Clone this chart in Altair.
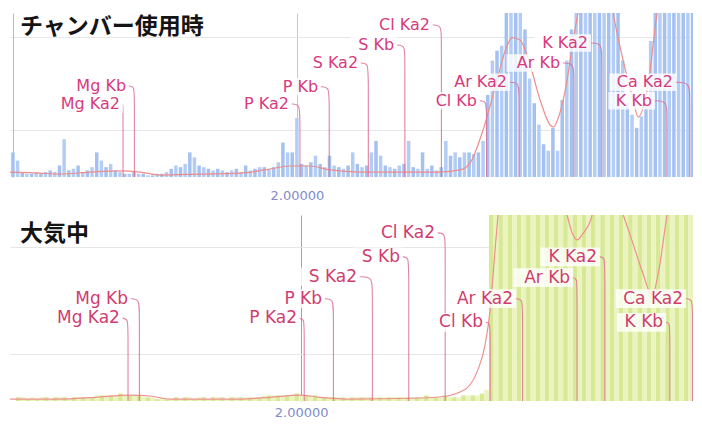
import altair as alt
import pandas as pd

# ---------------- data ----------------
# spectrum channel energies (keV), 20 eV channels
energy = [round(0.78 + 0.02 * i, 2) for i in range(147)]

# chamber (top) counts, relative units (100 = top of panel)
top_counts = [
    15, 10, 3, 2, 2, 3, 2, 3, 4, 3,
    7, 23, 4, 5, 7, 3, 4, 6, 15, 10,
    6, 8, 4, 3, 2, 2, 3, 2, 2, 1,
    1, 2, 2, 3, 5, 7, 6, 8, 15, 12,
    7, 6, 5, 4, 5, 4, 3, 4, 5, 3,
    7, 4, 5, 6, 6, 5, 6, 9, 21, 15,
    15, 36, 8, 7, 9, 13, 8, 6, 13, 7,
    6, 5, 7, 15, 8, 6, 7, 15, 22, 13,
    7, 6, 5, 7, 8, 22, 6, 5, 15, 5,
    7, 4, 6, 22, 13, 15, 12, 15, 15, 14,
    15, 22, 50, 71, 77, 80, 120, 120, 120, 120,
    90, 60, 45, 32, 20, 16, 30, 16, 47, 71,
    90, 120, 120, 120, 120, 120, 120, 120, 120, 120,
    120, 71, 45, 38, 30, 37, 45, 83, 100, 120,
    120, 120, 120, 120, 120, 120, 120,
]

# air (bottom) counts, relative units
bottom_counts = [
    2, 2, 1, 2, 1, 2, 2, 1, 2, 2,
    2, 1, 2, 2, 2, 2, 2, 3, 3, 3,
    3, 3, 4, 3, 3, 3, 3, 2, 2, 2,
    1, 2, 1, 1, 2, 1, 2, 2, 1, 2,
    2, 1, 2, 2, 2, 1, 2, 2, 2, 2,
    2, 2, 2, 3, 3, 3, 3, 3, 3, 3,
    4, 3, 3, 3, 3, 2, 2, 2, 2, 2,
    2, 1, 2, 2, 2, 2, 2, 2, 2, 2,
    2, 2, 2, 2, 2, 2, 2, 2, 3, 2,
    2, 2, 3, 2, 2, 2, 3, 3, 3, 3,
    4, 6, 120, 120, 120, 120, 120, 120, 120, 120,
    120, 120, 120, 120, 120, 120, 120, 120, 120, 120,
    120, 120, 120, 120, 120, 120, 120, 120, 120, 120,
    120, 120, 120, 120, 120, 120, 120, 120, 120, 120,
    120, 120, 120, 120, 120, 120, 120,
]

# fitted curves
top_fit_e = [0.767, 0.896, 0.982, 1.111, 1.240, 1.326, 1.412, 1.584, 1.756, 1.863,
             1.971, 2.057, 2.143, 2.271, 2.443, 2.615, 2.701, 2.744, 2.800, 2.860,
             2.895, 2.925, 2.959, 2.993, 3.045, 3.088, 3.101, 3.131, 3.161, 3.187,
             3.208, 3.238, 3.303, 3.337, 3.359, 3.402, 3.445, 3.466, 3.505, 3.548,
             3.582, 3.707]
top_fit_v = [3, 2.4, 1.8, 3, 3.7, 3, 1.2, 1.8, 2.4, 4.3,
             6.7, 6.7, 4.3, 3, 3, 3, 4.3, 8.5, 28.7, 59,
             77, 85, 83.5, 72.6, 47, 31.7, 30.5, 39.6, 59, 83.5,
             100, 120, 132, 120, 100, 71, 47, 36.6, 53, 100,
             125, 125]

bot_fit_e = [0.744, 0.960, 1.111, 1.262, 1.348, 1.434, 1.736, 1.866, 1.995, 2.081,
             2.211, 2.513, 2.629, 2.685, 2.728, 2.763, 2.793, 2.815, 2.836, 2.849,
             2.871, 3.095, 3.147, 3.170, 3.190, 3.215, 3.255, 3.289, 3.389, 3.430,
             3.470, 3.514, 3.545, 3.578, 3.620, 3.695]
bot_fit_v = [1, 1, 2, 3.2, 2.7, 1, 1, 2, 3.2, 2,
             1, 1.6, 2.7, 4.8, 8.6, 17, 30, 49, 81, 100,
             135, 135, 100, 90, 86.6, 90, 100, 125, 100, 85,
             70, 57, 72, 100, 125, 125]

# emission lines
lines = ["Mg Ka2", "Mg Kb", "P Ka2", "P Kb", "S Ka2", "S Kb", "Cl Ka2",
         "Cl Kb", "Ar Ka2", "Ar Kb", "K Ka2", "K Kb", "Ca Ka2"]
line_energy = [1.253, 1.302, 2.013, 2.139, 2.307, 2.464, 2.621,
               2.815, 2.955, 3.190, 3.310, 3.590, 3.688]
# label anchors (right end of text)
top_label_e = [1.240, 1.266, 1.966, 2.091, 2.263, 2.418, 2.572,
               2.774, 2.903, 3.131, 3.251, 3.526, 3.616]
top_label_v = [44.5, 55.5, 44.5, 55.0, 69.5, 80.5, 92.7,
               46.5, 57.8, 69.5, 81.7, 46.5, 57.8]
bot_label_e = [1.218, 1.253, 1.982, 2.090, 2.241, 2.426, 2.577,
               2.784, 2.914, 3.160, 3.276, 3.561, 3.647]
bot_label_v = [44.4, 55.0, 44.4, 55.0, 66.8, 77.5, 90.4,
               42.3, 55.0, 66.3, 77.5, 42.3, 55.0]

tick_values = [2.0]
top_grid = [28.7, 85.4]
bot_grid = [25.1, 82.9]

PLOT_W = 683


def bars_df(counts, half):
    return pd.DataFrame({
        "E": energy,
        "v": counts,
        "lo": [e - half for e in energy],
        "hi": [e + half for e in energy],
        "par": [i % 2 for i in range(len(energy))],
    })


def leader_df(lab_e, lab_v, gap, bend):
    rows = []
    for name, le, lx, lv in zip(lines, line_energy, lab_e, lab_v):
        rows += [
            {"name": name, "seq": 0, "E": lx + gap, "v": lv},
            {"name": name, "seq": 1, "E": le, "v": lv},
            {"name": name, "seq": 2, "E": le, "v": lv - bend},
            {"name": name, "seq": 3, "E": le, "v": 0},
        ]
    return pd.DataFrame(rows)


def panel(counts, half, bar_colors, fit_e, fit_v, lab_e, lab_v, xdom, height,
          ygrid, xgrid_color, ydomain_line, title_text, title_y, label_color,
          label_size, label_pad, bend, fit_color):
    xs = alt.Scale(domain=xdom, nice=False, zero=False)
    ys = alt.Scale(domain=[0, 100], nice=False, zero=True)
    xaxis = alt.Axis(values=tick_values, format=".5f", grid=True,
                     gridColor=xgrid_color, gridWidth=1, ticks=False,
                     domain=False, labelColor="#7f8bcb", labelFont="DejaVu Sans",
                     labelFontSize=13, labelPadding=label_pad, title=None)
    yaxis = alt.Axis(values=ygrid, grid=True, gridColor="#e6e6e6", labels=False,
                     ticks=False, domain=ydomain_line, domainColor="#b8b8b8",
                     offset=-3, title=None)

    def X(field):
        return alt.X(field, scale=xs, axis=xaxis)

    def Y(field):
        return alt.Y(field, scale=ys, axis=yaxis)

    bdf = bars_df(counts, half)
    even = alt.Chart(bdf).transform_filter("datum.par == 0").mark_bar(
        clip=True, color=bar_colors[0]
    ).encode(x=X("lo:Q"), x2="hi:Q", y=Y("v:Q"), y2=alt.datum(0))
    odd = alt.Chart(bdf).transform_filter("datum.par == 1").mark_bar(
        clip=True, color=bar_colors[1]
    ).encode(x=X("lo:Q"), x2="hi:Q", y=Y("v:Q"), y2=alt.datum(0))

    fit = alt.Chart(pd.DataFrame({"E": fit_e, "v": fit_v})).mark_line(
        color=fit_color, strokeWidth=1.2, clip=True, interpolate="monotone"
    ).encode(x=X("E:Q"), y=Y("v:Q"))

    leaders = alt.Chart(leader_df(lab_e, lab_v, 0.009, bend)).mark_line(
        color="#dc6f92", strokeWidth=1.1, opacity=0.85, clip=True,
        interpolate="basis"
    ).encode(x=X("E:Q"), y=Y("v:Q"), detail="name:N", order="seq:Q")

    # white backing boxes behind the labels (pixel sizes -> data units)
    ppk = PLOT_W / (xdom[1] - xdom[0])
    ppv = height / 100.0
    cw = 0.62 * label_size
    ldf = pd.DataFrame({"name": lines, "lx": lab_e, "lv": lab_v})
    backing = alt.Chart(ldf).transform_calculate(
        bx1=f"datum.lx - (length(datum.name) * {cw} + 4) / {ppk}",
        bx2=f"datum.lx + 3 / {ppk}",
        by1=f"datum.lv - {label_size * 0.55} / {ppv}",
        by2=f"datum.lv + {label_size * 0.55} / {ppv}",
    ).mark_rect(color="white", opacity=0.8, clip=True).encode(
        x=X("bx1:Q"), x2="bx2:Q", y=Y("by1:Q"), y2="by2:Q")

    labels = alt.Chart(ldf).mark_text(
        align="right", baseline="middle", font="DejaVu Sans", fontSize=label_size,
        color=label_color
    ).encode(x=X("lx:Q"), y=Y("lv:Q"), text="name:N")

    title = alt.Chart(pd.DataFrame({"t": [title_text]})).mark_text(
        align="left", baseline="middle", font="Noto Sans CJK JP", fontSize=23,
        fontWeight="bold", color="#141414"
    ).encode(text="t:N", x=alt.value(10), y=alt.value(title_y))

    return alt.layer(even, odd, fit, leaders, backing, labels, title).properties(
        width=PLOT_W, height=height)


top = panel(top_counts, 0.0075, ["#a4c1f0", "#b4cdf4"], top_fit_e, top_fit_v,
            top_label_e, top_label_v, [0.7674, 3.702], 164, top_grid, "#c8c8d0",
            True, "チャンバー使用時", 14, "#d63b7c", 16, 12, 8.5, "#ee8c8c")
bottom = panel(bottom_counts, 0.0101, ["#d8e995", "#ebf4c0"], bot_fit_e, bot_fit_v,
               bot_label_e, bot_label_v, [0.7439, 3.690], 186, bot_grid, "#9a9ae2",
               False, "大気中", 19, "#cf3d70", 17, 5, 7.5, "#ef9090")

chart = alt.vconcat(top, bottom, spacing=13).properties(
    padding={"left": 2, "top": 5, "right": 0, "bottom": 0},
    background="white",
).configure_view(stroke=None)

chart.save("out.html", embed_options={"renderer": "svg", "actions": False})
